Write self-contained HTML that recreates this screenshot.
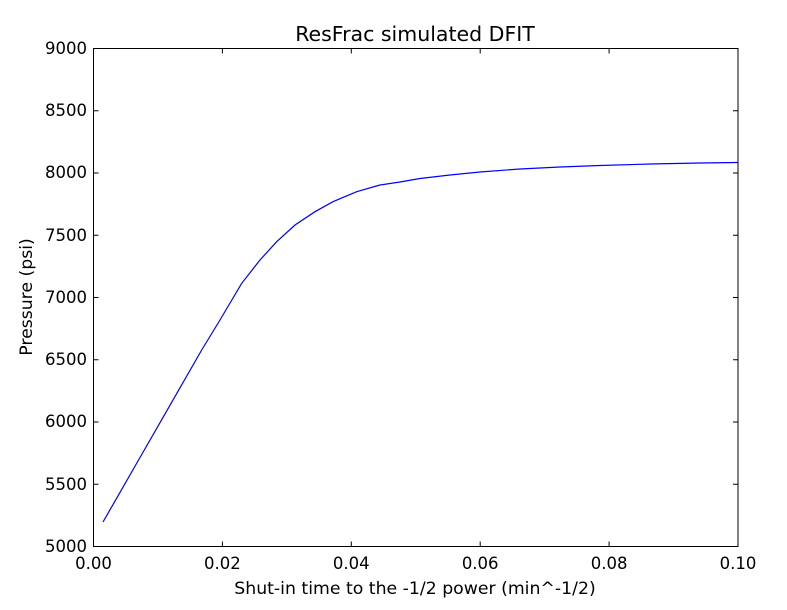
<!DOCTYPE html>
<html><head><style>body{margin:0;background:#fff}svg{display:block}text{font-family:"DejaVu Sans","Liberation Sans",sans-serif;fill:#000}</style></head>
<body>
<svg width="787" height="610" viewBox="0 0 787 610">
<rect width="787" height="610" fill="#fff"/>
<polyline fill="none" stroke="#0000ff" stroke-width="1.2" points="103,522 120,492.4 140,457.5 160,422.7 180,387.8 201.7,350 220,320 241.7,283.3 260,260 276.7,241.7 295,225 315,211.7 333,201.7 356.7,191.7 380,185 400,182 420,178.5 450,175 480,172 520,169 560,167 600,165.5 650,164 700,163 737.5,162.5"/>
<rect x="93.5" y="48.5" width="644.5" height="498" fill="none" stroke="#000" stroke-width="1"/>
<g stroke="#000" stroke-width="1">
<line x1="93.5" y1="48.5" x2="98.5" y2="48.5"/><line x1="93.5" y1="110.75" x2="98.5" y2="110.75"/><line x1="93.5" y1="173" x2="98.5" y2="173"/><line x1="93.5" y1="235.25" x2="98.5" y2="235.25"/><line x1="93.5" y1="297.5" x2="98.5" y2="297.5"/><line x1="93.5" y1="359.75" x2="98.5" y2="359.75"/><line x1="93.5" y1="422" x2="98.5" y2="422"/><line x1="93.5" y1="484.25" x2="98.5" y2="484.25"/>
<line x1="738" y1="110.75" x2="733" y2="110.75"/><line x1="738" y1="173" x2="733" y2="173"/><line x1="738" y1="235.25" x2="733" y2="235.25"/><line x1="738" y1="297.5" x2="733" y2="297.5"/><line x1="738" y1="359.75" x2="733" y2="359.75"/><line x1="738" y1="422" x2="733" y2="422"/><line x1="738" y1="484.25" x2="733" y2="484.25"/>
<line x1="222.4" y1="546.5" x2="222.4" y2="541.5"/><line x1="351.3" y1="546.5" x2="351.3" y2="541.5"/><line x1="480.2" y1="546.5" x2="480.2" y2="541.5"/><line x1="609.1" y1="546.5" x2="609.1" y2="541.5"/>
<line x1="222.4" y1="48.5" x2="222.4" y2="53.5"/><line x1="351.3" y1="48.5" x2="351.3" y2="53.5"/><line x1="480.2" y1="48.5" x2="480.2" y2="53.5"/><line x1="609.1" y1="48.5" x2="609.1" y2="53.5"/>
</g>
<g font-size="16.5" text-anchor="end">
<text x="87" y="54">9000</text><text x="87" y="116">8500</text><text x="87" y="178">8000</text><text x="87" y="241">7500</text><text x="87" y="303">7000</text><text x="87" y="365">6500</text><text x="87" y="427">6000</text><text x="87" y="490">5500</text><text x="87" y="552">5000</text>
</g>
<g font-size="16.5" text-anchor="middle">
<text x="93.5" y="569">0.00</text><text x="222.4" y="569">0.02</text><text x="351.3" y="569">0.04</text><text x="480.2" y="569">0.06</text><text x="609.1" y="569">0.08</text><text x="738" y="569">0.10</text>
<text x="415" y="594" font-size="17.3">Shut-in time to the -1/2 power (min^-1/2)</text>
<text x="415" y="41" font-size="20.5">ResFrac simulated DFIT</text>
<text transform="translate(32,297) rotate(-90)" font-size="17.3">Pressure (psi)</text>
</g>
</svg>
</body></html>
